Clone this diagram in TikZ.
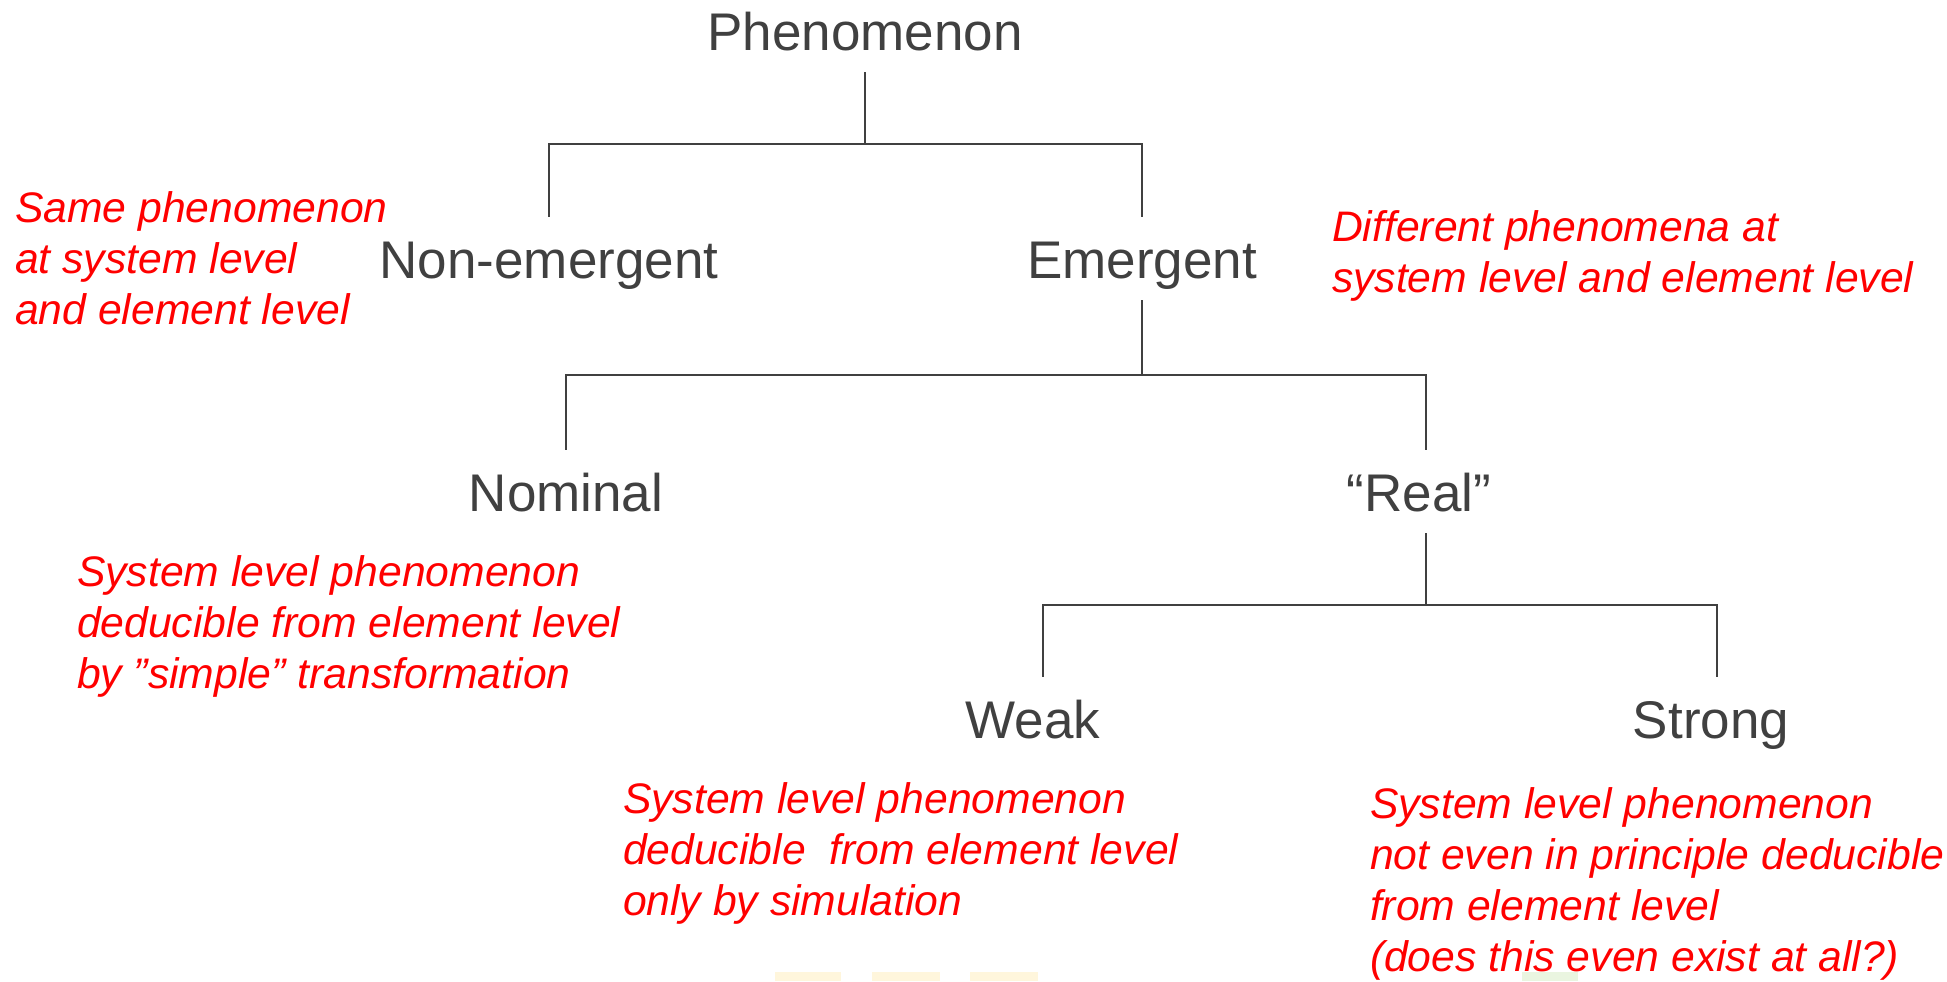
\documentclass[tikz,border=0pt]{standalone}
\usepackage{fontspec}
\setmainfont{Liberation Sans}
\definecolor{ink}{HTML}{404040}
\definecolor{note}{HTML}{FF0000}
\definecolor{paleyellow}{HTML}{FFF6DC}
\definecolor{palegreen}{HTML}{EAF5E0}
\begin{document}
\begin{tikzpicture}[x=0.5pt,y=-0.5pt,
  level/.style={font=\fontsize{26.5}{30}\selectfont, text=ink, anchor=base,
    inner sep=0pt, outer sep=0pt, text height=30.5pt, text depth=11pt},
  remark/.style={font=\fontsize{21.35}{25.5}\selectfont\itshape, text=note,
    anchor=base west, inner sep=0pt, outer sep=0pt},
  conn/.style={draw=ink, line width=1pt}]
\useasboundingbox[fill=white] (0,0) rectangle (1947,981);

% category labels of the tree
\node[level] (phen)   at (865,50)  {Phenomenon};
\node[level] (nonem)  at (549,278) {Non-emergent};
\node[level] (em)     at (1142,278) {Emergent};
\node[level] (nom)    at (566,511) {Nominal};
\node[level] (real)   at (1419,511) {“Real”};
\node[level] (weak)   at (1033,738) {Weak};
\node[level] (strong) at (1711,738) {Strong};

% explanatory remarks
\node[remark] (rsame) at (15,222) {\begin{tabular}[t]{@{}l@{}}Same phenomenon\\at system level\\and element level\end{tabular}};
\node[remark] (rdiff) at (1332,241) {\begin{tabular}[t]{@{}l@{}}Different phenomena at\\system level and element level\end{tabular}};
\node[remark] (rnom) at (77,586) {\begin{tabular}[t]{@{}l@{}}System level phenomenon\\deducible from element level\\by ”simple” transformation\end{tabular}};
\node[remark] (rweak) at (623,813) {\begin{tabular}[t]{@{}l@{}}System level phenomenon\\deducible\ \ from element level\\only by simulation\end{tabular}};
\node[remark] (rstrong) at (1370,818) {\begin{tabular}[t]{@{}l@{}}System level phenomenon\\not even in principle deducible\\from element level\\(does this even exist at all?)\end{tabular}};

% tree connectors
\draw[conn] (phen.south) -- ++(0,72) coordinate (b1);
\draw[conn] (b1) -| (nonem.north);
\draw[conn] (b1) -| (em.north);

\draw[conn] (em.south) -- ++(0,75) coordinate (b2);
\draw[conn] (b2) -| (nom.north);
\draw[conn] (b2) -| ([xshift=3.5pt]real.north);

\draw[conn] ([xshift=3.5pt]real.south) -- ++(0,72) coordinate (b3);
\draw[conn] (b3) -| ([xshift=5pt]weak.north);
\draw[conn] (b3) -| ([xshift=3pt]strong.north);

% faint tabs along the lower edge
\fill[paleyellow] (775,972) rectangle (841,981);
\fill[paleyellow] (872,972) rectangle (940,981);
\fill[paleyellow] (970,972) rectangle (1038,981);
\fill[palegreen] (1522,972) rectangle (1578,981);
\end{tikzpicture}
\end{document}
